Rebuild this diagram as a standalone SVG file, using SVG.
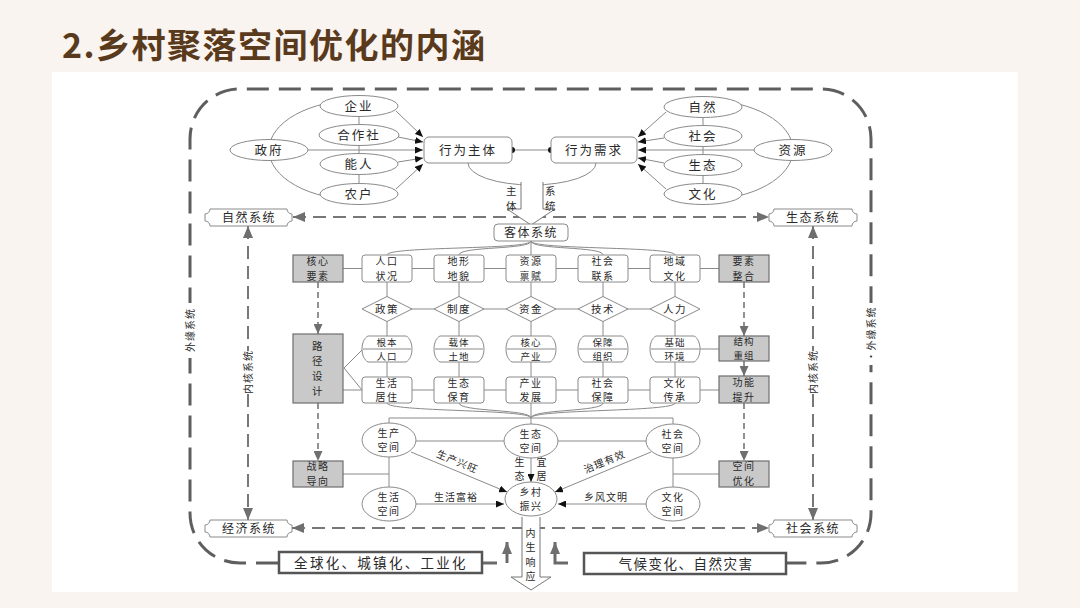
<svg xmlns="http://www.w3.org/2000/svg" width="1080" height="608" viewBox="0 0 1080 608">
<defs>
<style>
.t{font-family:'Noto Sans CJK SC','Noto Sans',sans-serif;font-size:10px;fill:#2a2a2a;text-anchor:middle;letter-spacing:1.5px}
.s{font-size:10px;letter-spacing:1px}
.r{font-size:9.5px;letter-spacing:1px}
.p{font-size:12px}
.q{font-size:10.5px}
.b{font-size:12.5px;letter-spacing:2px}
.ln{stroke:#8a8a8a;stroke-width:1;fill:none}
.nd{fill:#fff;stroke:#8a8a8a;stroke-width:1}
.key{fill:#c9c9c9;stroke:#6e6e6e;stroke-width:1.2}
.dsh{stroke:#777;stroke-width:2;stroke-dasharray:13 7;fill:none}
.gd{stroke:#777;stroke-width:1.6;stroke-dasharray:6 4;fill:none}
.outer{stroke:#5e5e5e;stroke-width:3;stroke-dasharray:22 10;fill:none}
.thick{stroke:#6a6a6a;stroke-width:3;fill:none}
.box{fill:#fff;stroke:#555;stroke-width:2.5}
</style>
<marker id="ab" viewBox="0 0 8 7" refX="8" refY="3.5" markerWidth="8" markerHeight="7" markerUnits="userSpaceOnUse" orient="auto"><path d="M0,0L8,3.5L0,7z" fill="#111"/></marker>
<marker id="ag" viewBox="0 0 12 10" refX="12" refY="5" markerWidth="12" markerHeight="10" markerUnits="userSpaceOnUse" orient="auto-start-reverse"><path d="M0,0L12,5L0,10z" fill="#6f6f6f"/></marker>
<marker id="am" viewBox="0 0 10 9" refX="10" refY="4.5" markerWidth="10" markerHeight="9" markerUnits="userSpaceOnUse" orient="auto"><path d="M0,0L10,4.5L0,9z" fill="#6f6f6f"/></marker>
</defs>
<rect width="1080" height="608" fill="#f9f4ef"/>
<rect x="52" y="72" width="966" height="520" fill="#ffffff"/>
<text x="62" y="58" style="font-family:'Noto Sans CJK SC',sans-serif;font-size:34px;font-weight:bold;fill:#5a3a1c;letter-spacing:1.5px">2.乡村聚落空间优化的内涵</text>

<g id="connectors">
<path class="outer" d="M278,563 H240 C212,563 190,541 190,513 V139 C190,111 212,89 240,89 H821 C849,89 871,111 871,139 V513 C871,541 849,563 821,563 H787"/>
<rect x="182" y="303" width="16" height="55" fill="#fff"/>
<rect x="863" y="303" width="16" height="62" fill="#fff"/>
<path class="thick" d="M483,563 H497"/>
<path class="thick" d="M507,563 V542" marker-end="url(#ag)"/>
<path class="thick" d="M568,563 H555 V542" marker-end="url(#ag)"/>
<path class="ln" d="M359,100 A90,50 0 0 0 359,200"/>
<path class="ln" d="M703,100 A90,50 0 0 1 703,200"/>
<path class="ln" d="M359,106 V194 M703,107 V194"/>
<g class="ln" marker-end="url(#ab)">
<path d="M396,111 L423,137"/><path d="M398,137 L423,142"/><path d="M308,150 H423"/><path d="M398,162 L423,158"/><path d="M396,189 L423,164"/>
<path d="M666,112 L638,137"/><path d="M664,138 L638,142"/><path d="M754,150 H638"/><path d="M664,163 L638,158"/><path d="M666,189 L638,164"/>
</g>
<path class="ln" d="M512,150 H551"/>
<circle cx="512" cy="150" r="3" fill="#111"/><circle cx="551" cy="150" r="3" fill="#111"/>
<path class="ln" d="M468,163 A64,22 0 0 0 596,163"/>
<path class="dsh" d="M293,217 H769" marker-start="url(#ag)" marker-end="url(#ag)"/>
<path class="dsh" d="M292,528 H769" marker-start="url(#ag)" marker-end="url(#ag)"/>
<path class="dsh" d="M248,226 V351" marker-start="url(#ag)"/>
<path class="dsh" d="M248,394 V520" marker-end="url(#ag)"/>
<path class="dsh" d="M813,226 V351" marker-start="url(#ag)"/>
<path class="dsh" d="M813,394 V520" marker-end="url(#ag)"/>
<path d="M521,182 V209 H507 L531,225 L555,209 H543 V182" fill="#fff" stroke="#777" stroke-width="1"/>
<path d="M522,517 V577 H511 L531,590 L551,577 H540 V517" fill="#fff" stroke="#777" stroke-width="1"/>
<g class="ln">
<path d="M531,241 C531,250 387,246 387,255"/><path d="M531,241 C531,250 459,246 459,255"/><path d="M531,241 V255"/><path d="M531,241 C531,250 603,246 603,255"/><path d="M531,241 C531,250 675,246 675,255"/>
<path d="M343,268.5 H719"/><path d="M387,309 H675"/><path d="M343,390 H719"/><path d="M700,349 H719"/>
<path d="M387,282 V377 M459,282 V377 M531,282 V377 M603,282 V377 M675,282 V377"/>
<path d="M344,368 L363,349 M344,368 L362,390"/>
<path d="M387,403 C387,412 531,409 531,418"/><path d="M459,403 C459,412 531,409 531,418"/><path d="M531,403 V418"/><path d="M603,403 C603,412 531,409 531,418"/><path d="M675,403 C675,412 531,409 531,418"/>
<path d="M389,423 V418 H673 V424 M531,418 V424"/>
<path d="M416,441 H646"/><path d="M389,457 V487 M673,458 V487"/>
<path d="M343,474 H389 M719,474 H673"/>
</g>
<g class="ln" marker-end="url(#ab)">
<path d="M411,452 L507,492"/><path d="M651,452 L555,492"/><path d="M416,504 H504"/><path d="M646,504 H558"/><path d="M531,458 V482"/>
</g>
<path class="gd" d="M318,282 V334" marker-end="url(#am)"/>
<path class="gd" d="M318,403 V461" marker-end="url(#am)"/>
<path class="gd" d="M744,282 V336" marker-end="url(#am)"/>
<path class="gd" d="M744,403 V461" marker-end="url(#am)"/>
<path stroke="#777" stroke-width="1.6" d="M744,361 V376" marker-end="url(#am)"/>
</g>

<g class="t">
<text class="s" transform="translate(194,330) rotate(-90)">外缘系统</text>
<text class="s" transform="translate(875,334) rotate(-90)">·外缘系统</text>
<text class="s" transform="translate(252,372) rotate(-90)">内核系统</text>
<text class="s" transform="translate(817,372) rotate(-90)">内核系统</text>
<text class="q" x="512" y="194.5">主<tspan x="512" y="210">体</tspan></text>
<text class="q" x="551" y="194.5">系<tspan x="551" y="210">统</tspan></text>
<text class="s" x="531" y="536.8">内<tspan x="531" y="551.3">生</tspan><tspan x="531" y="565.8">响</tspan><tspan x="531" y="580.3">应</tspan></text>
<text class="s" transform="translate(456,465) rotate(23)">生产兴旺</text>
<text class="s" transform="translate(606,465) rotate(-23)">治理有效</text>
<text class="s" x="456" y="501">生活富裕</text>
<text class="s" x="606" y="501">乡风文明</text>
<text class="s" x="520" y="465.5">生<tspan x="520" y="480">态</tspan></text>
<text class="s" x="542" y="465.5">宜<tspan x="542" y="480">居</tspan></text>
</g>

<g id="n-qiye"><ellipse class="nd" cx="359" cy="106" rx="39" ry="10.5"/><text class="t b" x="359" y="110.5">企业</text></g>
<g id="n-hezuoshe"><ellipse class="nd" cx="359" cy="135" rx="40" ry="10.5"/><text class="t b" x="359" y="139.5">合作社</text></g>
<g id="n-zhengfu"><ellipse class="nd" cx="269" cy="150" rx="39" ry="10.5"/><text class="t b" x="269" y="154.5">政府</text></g>
<g id="n-nengren"><ellipse class="nd" cx="359" cy="164" rx="39" ry="10.5"/><text class="t b" x="359" y="168.5">能人</text></g>
<g id="n-nonghu"><ellipse class="nd" cx="359" cy="194" rx="39" ry="10.5"/><text class="t b" x="359" y="198.5">农户</text></g>
<g id="n-ziran"><ellipse class="nd" cx="703" cy="107" rx="39" ry="10.5"/><text class="t b" x="703" y="111.5">自然</text></g>
<g id="n-shehui"><ellipse class="nd" cx="703" cy="136" rx="39" ry="10.5"/><text class="t b" x="703" y="140.5">社会</text></g>
<g id="n-ziyuan"><ellipse class="nd" cx="793" cy="150" rx="39" ry="10.5"/><text class="t b" x="793" y="154.5">资源</text></g>
<g id="n-shengtai"><ellipse class="nd" cx="703" cy="165" rx="39" ry="10.5"/><text class="t b" x="703" y="169.5">生态</text></g>
<g id="n-wenhua"><ellipse class="nd" cx="703" cy="194" rx="39" ry="10.5"/><text class="t b" x="703" y="198.5">文化</text></g>
<g id="n-xwzt"><rect class="nd" x="424" y="137" width="88" height="26" rx="5"/><text class="t b" x="468" y="154.5">行为主体</text></g>
<g id="n-xwxq"><rect class="nd" x="551" y="137" width="86" height="26" rx="5"/><text class="t b" x="594" y="154.5">行为需求</text></g>
<g id="n-ktxt"><rect class="nd" x="494" y="224" width="74" height="17" rx="4"/><text class="t p" x="531" y="237">客体系统</text></g>

<g id="n-zrxt"><path class="nd" d="M210,209 H287 A5,5 0 0 0 292,214 V221 A5,5 0 0 0 287,226 H210 A5,5 0 0 0 205,221 V214 A5,5 0 0 0 210,209 Z"/><text class="t p" x="249" y="222">自然系统</text></g>
<g id="n-stxt"><path class="nd" d="M774,209 H852 A5,5 0 0 0 857,214 V221 A5,5 0 0 0 852,226 H774 A5,5 0 0 0 769,221 V214 A5,5 0 0 0 774,209 Z"/><text class="t p" x="813" y="222">生态系统</text></g>
<g id="n-jjxt"><path class="nd" d="M210,520 H287 A5,5 0 0 0 292,525 V532 A5,5 0 0 0 287,537 H210 A5,5 0 0 0 205,532 V525 A5,5 0 0 0 210,520 Z"/><text class="t p" x="249" y="533">经济系统</text></g>
<g id="n-shxt"><path class="nd" d="M774,520 H852 A5,5 0 0 0 857,525 V532 A5,5 0 0 0 852,537 H774 A5,5 0 0 0 769,532 V525 A5,5 0 0 0 774,520 Z"/><text class="t p" x="813" y="533">社会系统</text></g>

<g id="n-hxys"><rect class="key" x="293" y="255" width="50" height="27"/><text class="t" x="318" y="265.3">核心<tspan x="318" y="279.8">要素</tspan></text></g>
<g id="n-yszh"><rect class="key" x="719" y="255" width="50" height="27"/><text class="t" x="744" y="265.3">要素<tspan x="744" y="279.8">整合</tspan></text></g>
<g id="n-ljsj"><rect class="key" x="293" y="334" width="50" height="69"/><text class="t q" x="318" y="349.5">路<tspan x="318" y="364.8">径</tspan><tspan x="318" y="380">设</tspan><tspan x="318" y="395.3">计</tspan></text></g>
<g id="n-jgcz"><rect class="key" x="719" y="336" width="50" height="25"/><text class="t r" x="744" y="345">结构<tspan x="744" y="359">重组</tspan></text></g>
<g id="n-gnts"><rect class="key" x="719" y="376" width="50" height="27"/><text class="t" x="744" y="386.3">功能<tspan x="744" y="400.8">提升</tspan></text></g>
<g id="n-zldx"><rect class="key" x="293" y="461" width="50" height="26"/><text class="t" x="318" y="470">战略<tspan x="318" y="484.5">导向</tspan></text></g>
<g id="n-kjyh"><rect class="key" x="719" y="461" width="50" height="26"/><text class="t" x="744" y="470">空间<tspan x="744" y="484.5">优化</tspan></text></g>

<g id="n-rkzk"><rect class="nd" x="362" y="255" width="50" height="27" rx="3"/><text class="t" x="387" y="265.3">人口<tspan x="387" y="279.8">状况</tspan></text></g>
<g id="n-dxdm"><rect class="nd" x="434" y="255" width="50" height="27" rx="3"/><text class="t" x="459" y="265.3">地形<tspan x="459" y="279.8">地貌</tspan></text></g>
<g id="n-zybf"><rect class="nd" x="506" y="255" width="50" height="27" rx="3"/><text class="t" x="531" y="265.3">资源<tspan x="531" y="279.8">禀赋</tspan></text></g>
<g id="n-shlx"><rect class="nd" x="578" y="255" width="50" height="27" rx="3"/><text class="t" x="603" y="265.3">社会<tspan x="603" y="279.8">联系</tspan></text></g>
<g id="n-dywh"><rect class="nd" x="650" y="255" width="50" height="27" rx="3"/><text class="t" x="675" y="265.3">地域<tspan x="675" y="279.8">文化</tspan></text></g>

<g id="n-zc"><path class="nd" d="M362,309 L387,296.5 L412,309 L387,321.5 Z"/><text class="t q" x="387" y="313">政策</text></g>
<g id="n-zd"><path class="nd" d="M434,309 L459,296.5 L484,309 L459,321.5 Z"/><text class="t q" x="459" y="313">制度</text></g>
<g id="n-zj"><path class="nd" d="M506,309 L531,296.5 L556,309 L531,321.5 Z"/><text class="t q" x="531" y="313">资金</text></g>
<g id="n-js"><path class="nd" d="M578,309 L603,296.5 L628,309 L603,321.5 Z"/><text class="t q" x="603" y="313">技术</text></g>
<g id="n-rl"><path class="nd" d="M650,309 L675,296.5 L700,309 L675,321.5 Z"/><text class="t q" x="675" y="313">人力</text></g>

<g id="n-gbrk"><path class="nd" d="M368,336 H406 C414,340 414,358 406,362 H368 C360,358 360,340 368,336 Z"/><path class="ln" d="M363,349 H411"/><text class="t r" x="387" y="345.6">根本<tspan x="387" y="359.6">人口</tspan></text></g>
<g id="n-ztdt"><path class="nd" d="M440,336 H478 C486,340 486,358 478,362 H440 C432,358 432,340 440,336 Z"/><path class="ln" d="M435,349 H483"/><text class="t r" x="459" y="345.6">载体<tspan x="459" y="359.6">土地</tspan></text></g>
<g id="n-hxcy"><path class="nd" d="M512,336 H550 C558,340 558,358 550,362 H512 C504,358 504,340 512,336 Z"/><path class="ln" d="M507,349 H555"/><text class="t r" x="531" y="345.6">核心<tspan x="531" y="359.6">产业</tspan></text></g>
<g id="n-bzzz"><path class="nd" d="M584,336 H622 C630,340 630,358 622,362 H584 C576,358 576,340 584,336 Z"/><path class="ln" d="M579,349 H627"/><text class="t r" x="603" y="345.6">保障<tspan x="603" y="359.6">组织</tspan></text></g>
<g id="n-jchj"><path class="nd" d="M656,336 H694 C702,340 702,358 694,362 H656 C648,358 648,340 656,336 Z"/><path class="ln" d="M651,349 H699"/><text class="t r" x="675" y="345.6">基础<tspan x="675" y="359.6">环境</tspan></text></g>

<g id="n-shjz"><rect class="nd" x="362" y="377" width="50" height="26" rx="3"/><text class="t" x="387" y="386.8">生活<tspan x="387" y="401.3">居住</tspan></text></g>
<g id="n-stby"><rect class="nd" x="434" y="377" width="50" height="26" rx="3"/><text class="t" x="459" y="386.8">生态<tspan x="459" y="401.3">保育</tspan></text></g>
<g id="n-cyfz"><rect class="nd" x="506" y="377" width="50" height="26" rx="3"/><text class="t" x="531" y="386.8">产业<tspan x="531" y="401.3">发展</tspan></text></g>
<g id="n-shbz"><rect class="nd" x="578" y="377" width="50" height="26" rx="3"/><text class="t" x="603" y="386.8">社会<tspan x="603" y="401.3">保障</tspan></text></g>
<g id="n-whcc"><rect class="nd" x="650" y="377" width="50" height="26" rx="3"/><text class="t" x="675" y="386.8">文化<tspan x="675" y="401.3">传承</tspan></text></g>

<g id="n-sckj"><ellipse class="nd" cx="389" cy="440" rx="27" ry="17"/><text class="t" x="389" y="436.6">生产<tspan x="389" y="451.1">空间</tspan></text></g>
<g id="n-stkj"><ellipse class="nd" cx="531" cy="441" rx="27" ry="17"/><text class="t" x="531" y="437.6">生态<tspan x="531" y="452.1">空间</tspan></text></g>
<g id="n-shkj"><ellipse class="nd" cx="673" cy="441" rx="27" ry="17"/><text class="t" x="673" y="437.6">社会<tspan x="673" y="452.1">空间</tspan></text></g>
<g id="n-shhkj"><ellipse class="nd" cx="389" cy="504" rx="27" ry="17"/><text class="t" x="389" y="500.6">生活<tspan x="389" y="515.1">空间</tspan></text></g>
<g id="n-whkj"><ellipse class="nd" cx="673" cy="504" rx="27" ry="17"/><text class="t" x="673" y="500.6">文化<tspan x="673" y="515.1">空间</tspan></text></g>
<g id="n-xczx"><ellipse class="nd" cx="531" cy="499" rx="26" ry="17"/><text class="t" x="531" y="495.6">乡村<tspan x="531" y="510.1">振兴</tspan></text></g>

<g id="n-qqh"><rect class="box" x="279" y="552" width="203" height="21"/><text class="t" x="381" y="567.5" style="font-size:13.5px;letter-spacing:2.3px">全球化、城镇化、工业化</text></g>
<g id="n-qhbh"><rect class="box" x="584" y="553" width="202" height="21"/><text class="t" x="686" y="568.5" style="font-size:13.5px;letter-spacing:1.5px">气候变化、自然灾害</text></g>
</svg>
